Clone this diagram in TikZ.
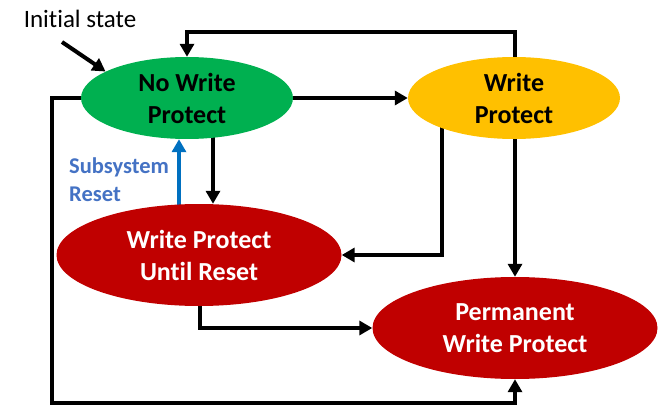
\documentclass[tikz,border=0pt]{standalone}
\usepackage{fontspec}
\setmainfont{Carlito}[Ligatures=NoCommon]
\usetikzlibrary{shapes.geometric,arrows.meta,backgrounds}
\definecolor{stgreen}{HTML}{00B050}
\definecolor{styellow}{HTML}{FFC000}
\definecolor{stred}{HTML}{C00000}
\definecolor{lblblue}{HTML}{4472C4}
\definecolor{arrblue}{HTML}{0070C0}
\tikzset{
  state/.style={ellipse, inner sep=0pt, align=center,
    font=\bfseries\fontsize{26}{32}\selectfont},
  smallstate/.style={state, minimum width=212pt, minimum height=82pt},
  bigstate/.style={state, minimum width=285pt, minimum height=102pt, text=white, fill=stred},
  conn/.style={line width=4pt, draw=black,
    -{Triangle[length=13pt,width=14pt]}},
}
\begin{document}
\begin{tikzpicture}[x=1pt,y=-1pt]
\useasboundingbox (0,0) rectangle (658,406);

% states
\node[smallstate, fill=stgreen] (nwp) at (187,98) {No Write\\Protect};
\node[smallstate, fill=styellow] (wp) at (514,98) {Write\\Protect};
\node[bigstate] (wpur) at (199,255) {Write Protect\\Until Reset};
\node[bigstate] (pwp) at (515,328) {Permanent\\Write Protect};

% labels
\node[anchor=base, inner sep=0pt, font=\fontsize{25}{30}\selectfont] (init) at (80,28) {Initial state};
\node[anchor=base west, inner sep=0pt, align=left, text=lblblue,
      font=\bfseries\fontsize{22.5}{28}\selectfont] (rst) at (69,201) {Subsystem\\Reset};

% routing helpers
\coordinate (initstart) at (62,42);
\coordinate (lbot) at (52,403);
\coordinate (xdown) at (213,0);
\coordinate (xup) at (179,0);
\coordinate (xwp) at (442,0);
\coordinate (xwpur) at (200,0);

\begin{scope}[on background layer]
  \draw[conn] (initstart) -- (nwp.162);
  \draw[conn] (wp.center -| pwp.north) -- ++(0,-66) -| (nwp.north);
  \draw[conn] (nwp.west) -| (lbot) -| (pwp.south);
  \draw[conn] (nwp.east) -- (wp.west);
  \draw[conn] (nwp.center -| xdown) -- (wpur.north -| xdown);
  \draw[conn, draw=arrblue] (wpur.center -| xup) -- (nwp.south -| xup);
  \draw[conn] (wp.center -| xwp) |- (wpur.east);
  \draw[conn] (wp.center -| pwp.north) -- (pwp.north);
  \draw[conn] (wpur.center -| xwpur) |- (pwp.west);
\end{scope}
\end{tikzpicture}
\end{document}
